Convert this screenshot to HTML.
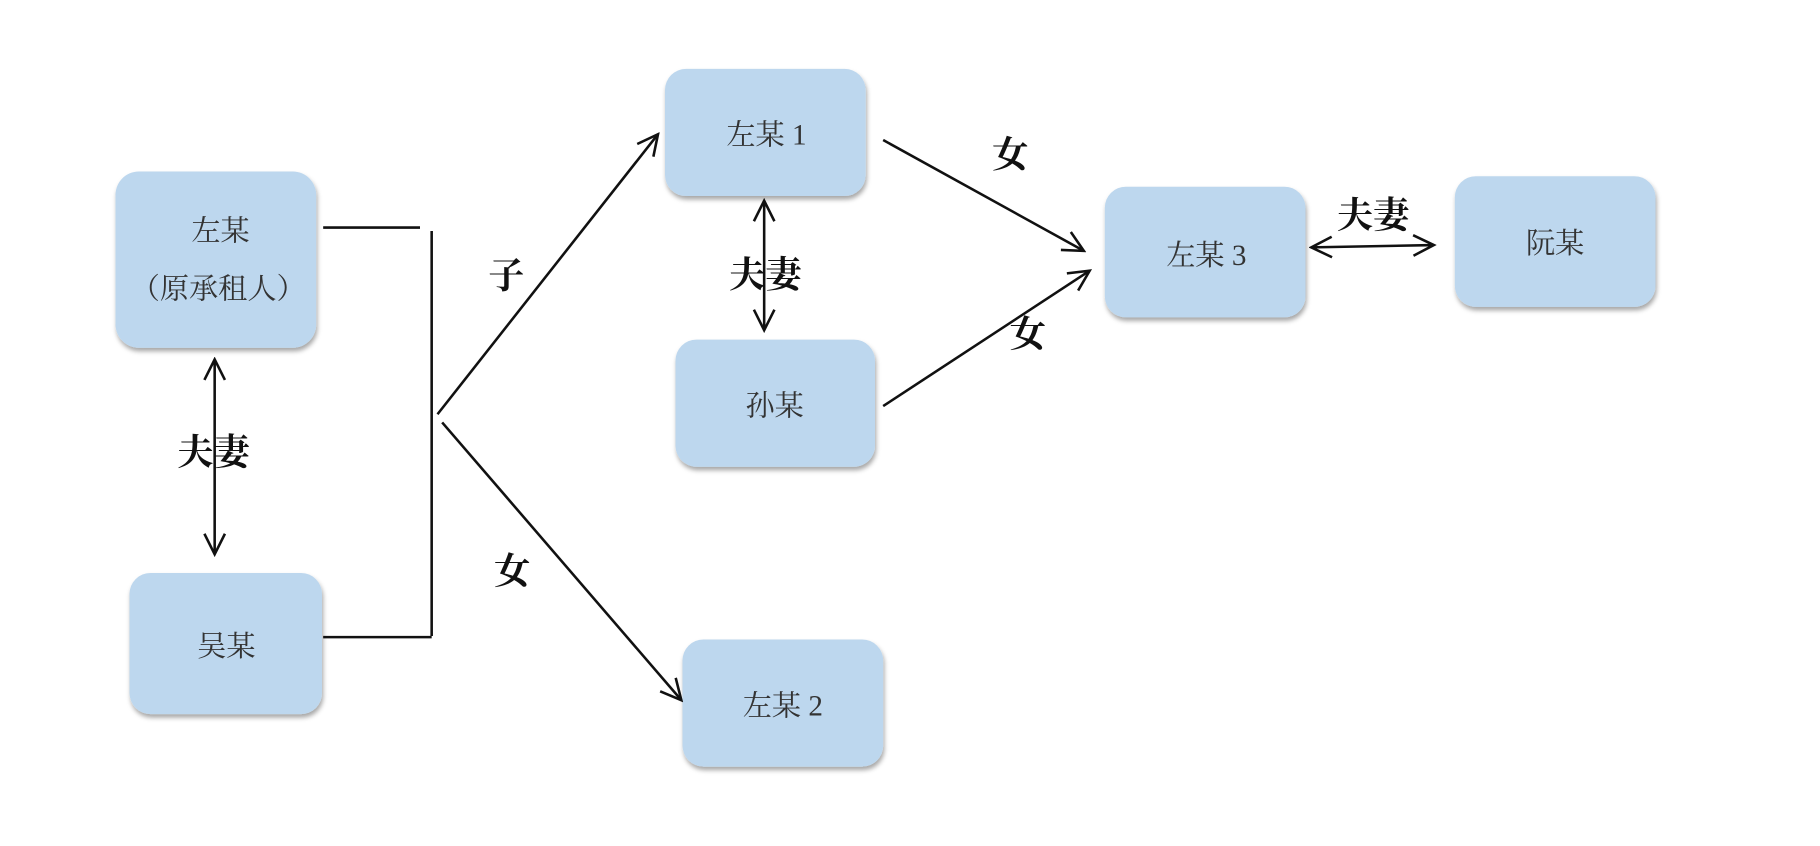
<!DOCTYPE html>
<html><head><meta charset="utf-8"><style>
html,body{margin:0;padding:0;background:#fff;}
svg{display:block}
text{font-family:"Liberation Serif","Noto Serif CJK SC",serif;fill:#333}
.l{fill:#111;font-size:31px;font-weight:bold}
</style></head><body>
<svg width="1820" height="846" viewBox="0 0 1560 725" preserveAspectRatio="none" xmlns="http://www.w3.org/2000/svg">
<defs>
<filter id="s" x="-10%" y="-10%" width="130%" height="130%"><feDropShadow dx="1" dy="3" stdDeviation="2" flood-color="#000" flood-opacity="0.35"/></filter>
<marker id="a" viewBox="0 0 20 20" refX="18" refY="10" markerWidth="22" markerHeight="22" markerUnits="userSpaceOnUse" orient="auto-start-reverse"><path d="M2 2 L18 10 L2 18" fill="none" stroke="#111" stroke-width="2"/></marker>
</defs>
<g fill="#bdd7ee" filter="url(#s)">
<rect x="99" y="147" width="172" height="151" rx="20"/>
<rect x="111" y="491" width="165" height="121" rx="18"/>
<rect x="570" y="59" width="172" height="109" rx="18"/>
<rect x="579" y="291" width="171" height="109" rx="18"/>
<rect x="585" y="548" width="172" height="109" rx="18"/>
<rect x="947" y="160" width="172" height="112" rx="18"/>
<rect x="1247" y="151" width="172" height="112" rx="18"/>
</g>
<g font-size="25" text-anchor="middle">
<text x="189" y="206">左某</text>
<text x="187" y="256">（原承租人）</text>
<text x="194" y="562">吴某</text>
<text x="657" y="124">左某 1</text>
<text x="664" y="356">孙某</text>
<text x="671" y="613">左某 2</text>
<text x="1034" y="227">左某 3</text>
<text x="1333" y="217">阮某</text>
</g>
<g stroke="#111" stroke-width="2.2" fill="none">
<path d="M277 195 H360 M370 198 V545 M277 546 H370"/>
<line x1="375" y1="355" x2="564" y2="115" marker-end="url(#a)"/>
<line x1="379" y1="362" x2="584" y2="600" marker-end="url(#a)"/>
<line x1="757" y1="120" x2="929" y2="215" marker-end="url(#a)"/>
<line x1="757" y1="348" x2="934" y2="232" marker-end="url(#a)"/>
<line x1="184" y1="308" x2="184" y2="475" marker-start="url(#a)" marker-end="url(#a)"/>
<line x1="655" y1="172" x2="655" y2="283" marker-start="url(#a)" marker-end="url(#a)"/>
<line x1="1124" y1="212" x2="1229" y2="210" marker-start="url(#a)" marker-end="url(#a)"/>
</g>
<g text-anchor="middle">
<text class="l" x="434" y="247">子</text>
<text class="l" x="439" y="500">女</text>
<text class="l" x="866" y="143">女</text>
<text class="l" x="881" y="297">女</text>
<text class="l" x="183" y="398">夫妻</text>
<text class="l" x="656" y="246">夫妻</text>
<text class="l" x="1177" y="195">夫妻</text>
</g>
</svg>
</body></html>
